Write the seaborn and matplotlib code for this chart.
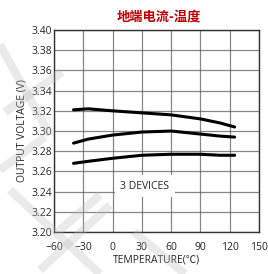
import matplotlib
matplotlib.use("Agg")
import matplotlib.pyplot as plt
import seaborn as sns
import pandas as pd

# temperature points (degC) and output voltage of the 3 devices
temps = [-40, -25, 0, 30, 60, 90, 110, 125]
dev1 = [3.321, 3.322, 3.320, 3.318, 3.316, 3.312, 3.308, 3.304]
dev2 = [3.288, 3.292, 3.296, 3.299, 3.300, 3.297, 3.295, 3.294]
dev3 = [3.268, 3.270, 3.273, 3.276, 3.277, 3.277, 3.276, 3.276]

xticks = [-60, -30, 0, 30, 60, 90, 120, 150]
yticks = [3.20, 3.22, 3.24, 3.26, 3.28, 3.30, 3.32, 3.34, 3.36, 3.38, 3.40]

df = pd.DataFrame({"temp": temps * 3,
                   "volt": dev1 + dev2 + dev3,
                   "dev": ["d1"] * 8 + ["d2"] * 8 + ["d3"] * 8})

sns.set_style("white")
plt.rcParams["font.family"] = ["Open Sans", "Noto Sans CJK SC", "DejaVu Sans"]

W, H = 268, 274
fig = plt.figure(figsize=(W / 100, H / 100), dpi=100)
ax = fig.add_axes([0.2015, 0.1533, 0.765, 0.737])

sns.lineplot(data=df, x="temp", y="volt", units="dev", estimator=None,
             color="black", lw=2.2, ax=ax, legend=False)

ax.set_xlim(-60, 150)
ax.set_ylim(3.20, 3.40)
ax.set_xticks(xticks)
ax.set_yticks(yticks)
ax.set_yticklabels([f"{v:.2f}" for v in yticks])
ax.grid(True, color="#555555", lw=0.9, alpha=0.7)
for s in ax.spines.values():
    s.set_color("#333333")
    s.set_linewidth(1.0)
ax.tick_params(labelsize=7.5, length=0)
ax.tick_params(axis="x", pad=7.5)
ax.tick_params(axis="y", pad=1.5)
ax.set_xlabel("TEMPERATURE(℃)", fontsize=7.5, labelpad=1)
ax.set_ylabel("OUTPUT VOLTAGE (V)", fontsize=7.5, labelpad=3)
ax.set_title("地端电流-温度", fontsize=9.5, fontweight="bold", color="#c00000",
             family=["Noto Sans CJK SC", "DejaVu Sans"], pad=7, x=0.51)
ax.text(33, 3.2455, "3 DEVICES", ha="center", va="center", fontsize=7.5,
        bbox=dict(facecolor="white", edgecolor="none", pad=4))

# faint watermark strokes, pixel coords from top-left
strokes = [((0, 45), (50, 135)), ((5, 112), (62, 72)), ((0, 170), (45, 137)),
           ((10, 190), (100, 274)), ((40, 270), (110, 205)), ((60, 230), (100, 195)),
           ((134, 232), (185, 274))]
for (x0, y0), (x1, y1) in strokes:
    fig.add_artist(plt.Line2D([x0 / W, x1 / W], [1 - y0 / H, 1 - y1 / H],
                              color="#bbbbbb", lw=6, alpha=0.3, zorder=5,
                              solid_capstyle="butt"))

fig.savefig("out.png", dpi=100)
